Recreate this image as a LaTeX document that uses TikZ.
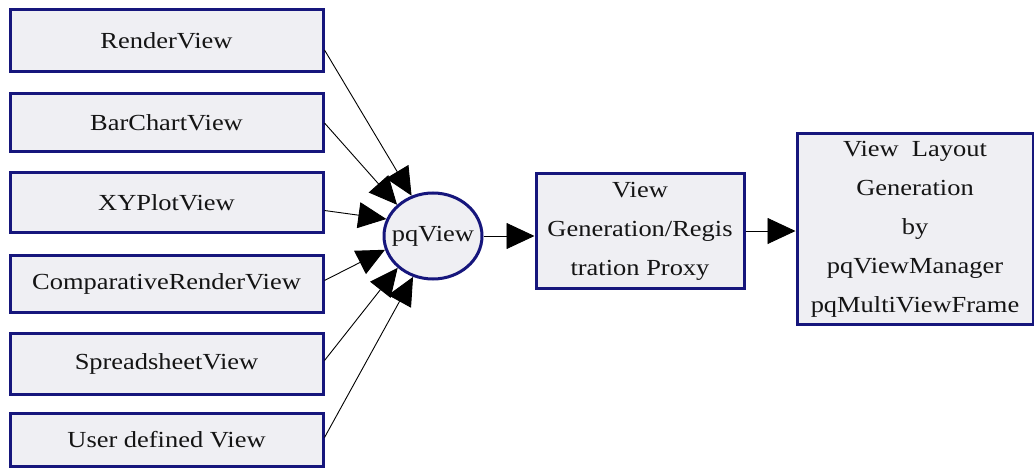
\documentclass[tikz,border=0pt]{standalone}
\usepackage{fontspec}
\setmainfont{Liberation Serif}[FakeStretch=1.15]
\usetikzlibrary{arrows.meta,shapes.geometric}
\definecolor{boxfill}{HTML}{EFEFF3}
\definecolor{boxedge}{HTML}{16167C}
\definecolor{ink}{HTML}{141414}
\begin{document}
\begin{tikzpicture}[x=1pt,y=-1pt,
  viewbox/.style={rectangle, draw=boxedge, fill=boxfill, line width=3pt,
    inner sep=0pt, align=center, text=ink,
    font=\fontsize{23}{39}\selectfont},
  leftbox/.style={viewbox, minimum width=313pt},
  hub/.style={ellipse, draw=boxedge, fill=boxfill, line width=3pt,
    inner sep=0pt, minimum width=98pt, minimum height=86pt},
  flow/.style={draw=black, line width=0.9pt,
    -{Triangle[length=28pt,width=26pt]}}
]
\useasboundingbox (0,0) rectangle (1034,468);

% view types on the left
\node[leftbox, minimum height=62pt] (r1) at (166.5,41)    {RenderView};
\node[leftbox, minimum height=58pt] (r2) at (166.5,123)   {BarChartView};
\node[leftbox, minimum height=59pt] (r3) at (166.5,202.5) {XYPlotView};
\node[leftbox, minimum height=57pt] (r4) at (166.5,283.5) {ComparativeRenderView};
\node[leftbox, minimum height=61pt] (r5) at (166.5,363.5) {SpreadsheetView};
\node[leftbox, minimum height=53pt] (r6) at (166.5,439.5) {User defined View};

% common base view
\node[hub, label={[text=ink, font=\fontsize{23}{39}\selectfont]center:pqView}] (pq) at (433,236) {};

% registration and layout stages
\node[viewbox, minimum width=208pt, minimum height=114pt] (reg) at (640,231)
  {View\\Generation/Regis\\tration Proxy};
\node[viewbox, minimum width=236pt, minimum height=191pt] (lay) at (915,229)
  {View~~Layout\\Generation\\by\\pqViewManager\\pqMultiViewFrame};

% connectors
\draw[flow] ([yshift=-9pt]r1.east) -- (pq.118);
\draw[flow] (r2.east) -- (pq.139);
\draw[flow] ([yshift=-8pt]r3.east) -- (pq.160);
\draw[flow] ([yshift=3pt]r4.east) -- (pq.196);
\draw[flow] ([yshift=3pt]r5.east) -- (pq.222);
\draw[flow] ([yshift=2pt]r6.east) -- (pq.244);
\draw[flow] (pq.east) -- (reg.west |- pq.east);
\draw[flow] (reg.east) -- (lay.west |- reg.east);
\end{tikzpicture}
\end{document}
